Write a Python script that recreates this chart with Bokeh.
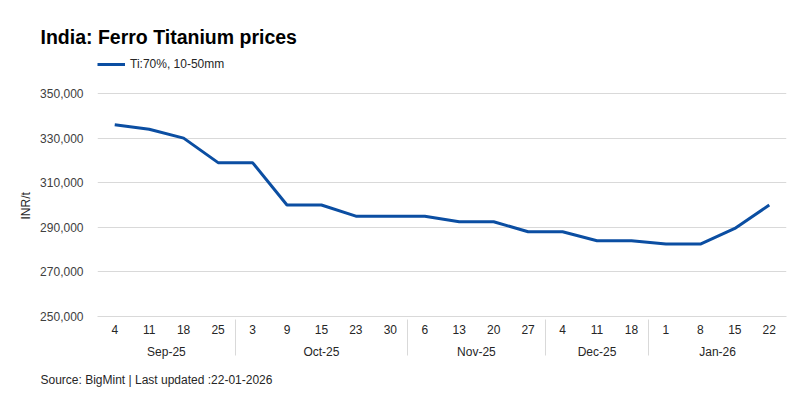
from bokeh.plotting import figure
from bokeh.models import (FactorRange, Range1d, NumeralTickFormatter, Legend,
                          LegendItem, FixedTicker, Title)
from bokeh.embed import file_html
from bokeh.resources import INLINE

months = ["Sep-25", "Oct-25", "Nov-25", "Dec-25", "Jan-26"]
days = [["4", "11", "18", "25"],
        ["3", "9", "15", "23", "30"],
        ["6", "13", "20", "27"],
        ["4", "11", "18"],
        ["1", "8", "15", "22"]]
prices = [336000, 334000, 330000, 319000, 319000, 300000, 300000, 295000, 295000,
          295000, 292500, 292500, 288000, 288000, 284000, 284000, 282500, 282500,
          289500, 300000]
y_ticks = [250000, 270000, 290000, 310000, 330000, 350000]
series_name = "Ti:70%, 10-50mm"
title_text = "India: Ferro Titanium prices"
source_text = "Source: BigMint | Last updated :22-01-2026"
y_label = "INR/t"

FONT = "Liberation Sans"
LINE_COLOR = "#0B4EA2"
GRID = "#d9d9d9"
TXT = "#262626"

# layout (pixels)
FRAME_TOP = 55          # frame starts above the top gridline to host the legend row
GRID_TOP = 93           # where the highest tick sits
FRAME_BOTTOM = 316
H = 398
span = y_ticks[-1] - y_ticks[0]
y_end = y_ticks[-1] + span * (GRID_TOP - FRAME_TOP) / (FRAME_BOTTOM - GRID_TOP)

factors = [(m, d) for m, ds in zip(months, days) for d in ds]
p = figure(x_range=FactorRange(*factors, group_padding=0, factor_padding=0, range_padding=0),
           y_range=Range1d(y_ticks[0], y_end),
           width=800, height=H, output_backend="svg", toolbar_location=None,
           min_border_left=97, min_border_right=14, min_border_top=FRAME_TOP,
           min_border_bottom=H - FRAME_BOTTOM)
p.outline_line_color = None

r = p.line(x=factors, y=prices, line_color=LINE_COLOR, line_width=3)

xa = p.xaxis[0]
xa.axis_line_color = GRID
xa.major_tick_line_color = None
xa.major_tick_out = 0
xa.major_tick_in = 0
xa.minor_tick_line_color = None
xa.major_label_text_font = FONT
xa.major_label_text_font_size = "12px"
xa.major_label_text_color = TXT
xa.major_label_standoff = 8
xa.group_text_font = FONT
xa.group_text_font_size = "12px"
xa.group_text_font_style = "normal"
xa.group_text_color = TXT
xa.separator_line_color = GRID
xa.separator_line_width = 1

ya = p.yaxis[0]
ya.ticker = FixedTicker(ticks=y_ticks)
ya.formatter = NumeralTickFormatter(format="0,0")
ya.axis_line_color = None
ya.major_tick_line_color = None
ya.major_tick_out = 0
ya.major_tick_in = 0
ya.minor_tick_line_color = None
ya.major_label_text_font = FONT
ya.major_label_text_font_size = "12px"
ya.major_label_text_color = "#404040"
ya.major_label_standoff = 14

p.xgrid.grid_line_color = None
p.ygrid.grid_line_color = GRID
p.ygrid.ticker = FixedTicker(ticks=y_ticks)

# y-axis title as a left-panel title, centred on the gridded part of the frame
p.add_layout(Title(text=y_label, align="left", offset=97, standoff=10,
                   vertical_align="bottom", text_font=FONT, text_font_size="12px",
                   text_font_style="normal", text_color=TXT), "left")

# legend row inside the (extended) frame, at its top-left
legend = Legend(items=[LegendItem(label=series_name, renderers=[r])],
                location=(0, FRAME_BOTTOM - 71), orientation="horizontal",
                glyph_width=28, glyph_height=12, label_height=12,
                label_standoff=5, padding=0, margin=0, border_line_color=None,
                background_fill_alpha=0, label_text_font=FONT,
                label_text_font_size="12px", label_text_color=TXT)
p.add_layout(legend)

# title above (listed from the frame outward), source below the axis
p.add_layout(Title(text=title_text, align="left", offset=-57, standoff=15,
                   text_font=FONT, text_font_size="19.5px", text_font_style="bold",
                   text_color="black"), "above")
p.add_layout(Title(text=" ", text_font_size="1px", standoff=12), "above")

p.add_layout(Title(text=source_text, align="left", offset=-57, standoff=18,
                   vertical_align="bottom",
                   text_font=FONT, text_font_size="12px", text_font_style="normal",
                   text_color=TXT), "below")

open("out.html", "w").write(file_html(p, INLINE))
